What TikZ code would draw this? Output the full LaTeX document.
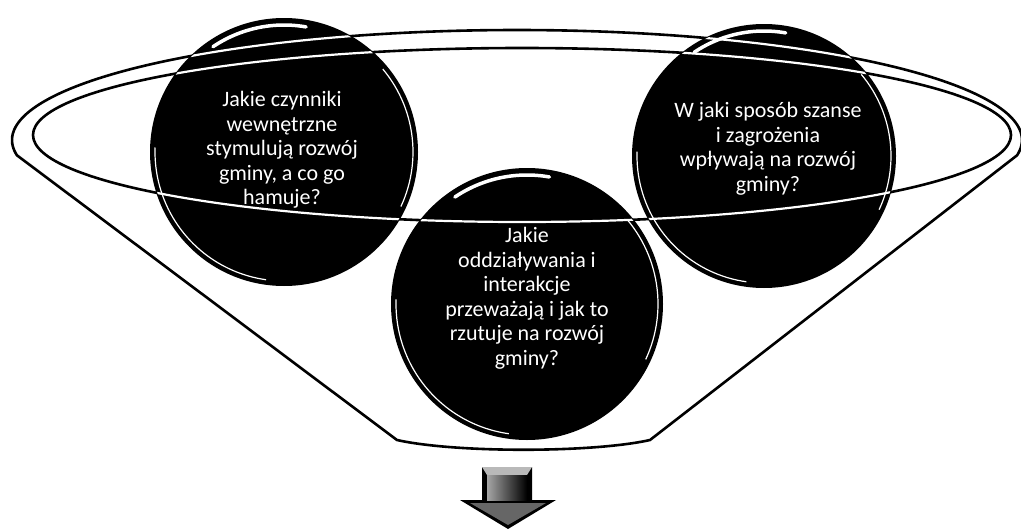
\documentclass[tikz,border=0pt]{standalone}
\usepackage{fontspec}
\setmainfont{Carlito}
\newcommand\glassfx[3]{%
  \draw[gloss] plot[domain=80:124,samples=30] ({#1+(#3-7)*cos(\x)},{#2-(#3-7)*sin(\x)});
  \draw[rimw] plot[domain=178:262,samples=40] ({#1+(#3-5)*cos(\x)},{#2-(#3-5)*sin(\x)});
  \draw[rimw] plot[domain=-25:40,samples=30] ({#1+(#3-5)*cos(\x)},{#2-(#3-5)*sin(\x)});
}
\begin{document}
\begin{tikzpicture}[x=1pt,y=-1pt,
  funnel/.style={line width=2.6pt, line join=round, line cap=round},
  bubble/.style={circle, fill=black, inner sep=0pt},
  label/.style={text=white, align=center, inner sep=0pt,
                font=\fontsize{22}{24.5}\selectfont},
  gloss/.style={white, line width=3.5pt, line cap=round},
  rimw/.style={white, line width=1.2pt}]
\useasboundingbox (0,0) rectangle (1021,530);
\fill[white] (0,0) rectangle (1021,530);

% funnel outline and rim
\draw[funnel] plot[domain=-8:188,samples=160] ({517+505*cos(\x)},{140-110*sin(\x)})
  -- (397,440) .. controls (455,453) and (592,453) .. (650,440) -- cycle;
\draw[funnel] (522,135) ellipse [x radius=489, y radius=87];

% bubbles
\node[bubble, minimum size=268pt] (c1) at (284,152) {};
\node[bubble, minimum size=272pt] (c2) at (527,304) {};
\node[bubble, minimum size=264pt] (c3) at (764,156) {};

\glassfx{284}{152}{134}
\glassfx{527}{304}{136}
\glassfx{764}{156}{132}

% rim lines seen through the bubbles
\begin{scope}
  \clip (284,152) circle[radius=133] (527,304) circle[radius=135] (764,156) circle[radius=131];
  \draw[funnel, white, line width=2.2pt] plot[domain=-8:188,samples=160] ({517+505*cos(\x)},{140-110*sin(\x)});
  \draw[funnel, white, line width=2.2pt] (522,135) ellipse [x radius=489, y radius=87];
\end{scope}

% texts
\node[label] (t1) at (282,150)
  {Jakie czynniki\\wewnętrzne\\stymulują rozwój\\gminy, a co go\\hamuje?};
\node[label] (t2) at (527,298)
  {Jakie\\oddziaływania i\\interakcje\\przeważają i jak to\\rzutuje na rozwój\\gminy?};
\node[label] (t3) at (768,149)
  {W jaki sposób szanse\\i zagrożenia\\wpływają na rozwój\\gminy?};

% down arrow
\fill[black] (482,467) -- (532,467) -- (532,500) -- (556,500) -- (508,529)
  -- (460,500) -- (482,500) -- cycle;
\fill[gray!55] (482,467) -- (532,467) -- (527,475) -- (487,475) -- cycle;
\shade[left color=gray!70, right color=black] (487,475) rectangle (527,500);
\fill[black!60] (470,503) -- (546,503) -- (508,525) -- cycle;
\end{tikzpicture}
\end{document}
